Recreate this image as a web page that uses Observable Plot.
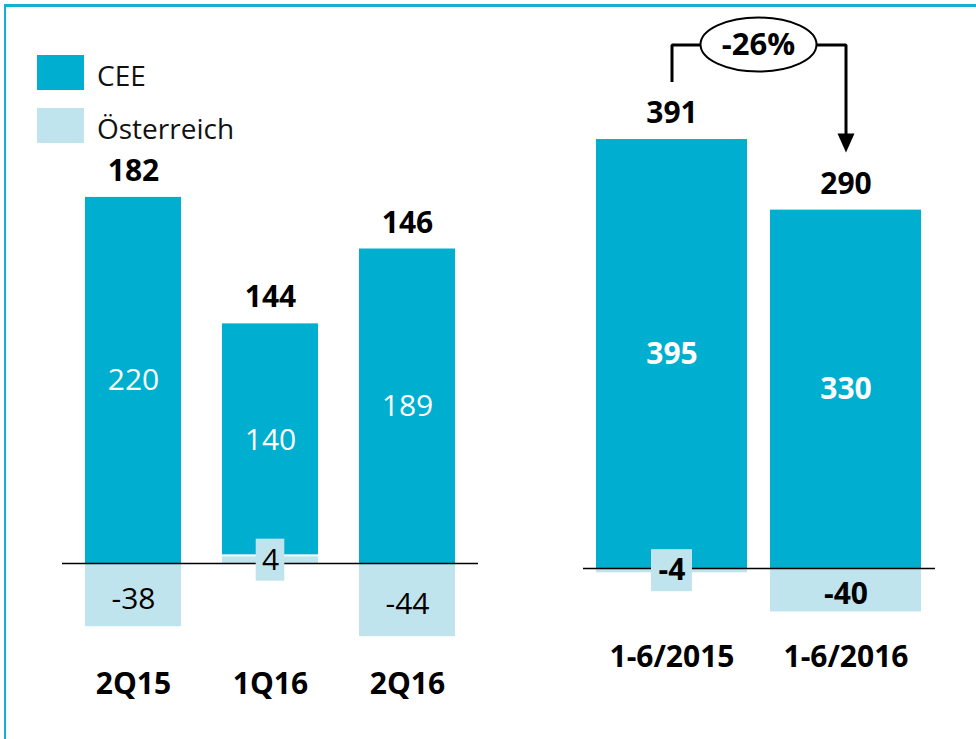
<!DOCTYPE html>
<html>
<head>
<meta charset="utf-8">
<script src="https://cdn.jsdelivr.net/npm/d3@7"></script>
<script src="https://cdn.jsdelivr.net/npm/@observablehq/plot@0.6"></script>
<style>
  body { margin: 0; background: #fff; }
  #wrap { position: relative; width: 976px; height: 739px; overflow: hidden; font-family: "Open Sans", sans-serif; background: #fff; }
  #left { position: absolute; left: 0; top: 0; }
  #right { position: absolute; left: 520px; top: 0; }
  #frame { position: absolute; left: 4px; top: 4px; right: -10px; bottom: -10px; border-top: 3px solid #12B0D2; border-left: 2px solid #12B0D2; pointer-events: none; }
  #legend { position: absolute; left: 37px; top: 55px; }
  .item { display: flex; align-items: center; height: 35px; margin-bottom: 18px; }
  .sw { width: 47px; height: 35px; margin-right: 13px; }
  .lab { font-size: 28px; color: #111; line-height: 35px; padding-top: 5px; }
</style>
</head>
<body>
<div id="wrap">
  <div id="left"></div>
  <div id="right"></div>
  <div id="legend"></div>
  <div id="frame"></div>
</div>
<script>
// ---- data ----
const seriesNames = ["CEE", "Österreich"];
const colors = ["#00AECF", "#BFE4ED"];

const quarters = ["2Q15", "1Q16", "2Q16"];
const ceeQ = [220, 140, 189];
const atQ = [-38, 4, -44];
const totalQ = [182, 144, 146];

const halves = ["1-6/2015", "1-6/2016"];
const ceeH = [395, 330];
const atH = [-4, -40];
const totalH = [391, 290];

// annotation levels (data units of the right panel)
const bracketY = 482;
const bracketLow = 448;
const arrowTip = 383;

// ---- legend ----
const legend = document.getElementById("legend");
seriesNames.forEach((n, i) => {
  const it = document.createElement("div");
  it.className = "item";
  it.innerHTML = `<div class="sw" style="background:${colors[i]}"></div><div class="lab">${n}</div>`;
  legend.appendChild(it);
});

function rowsOf(cats, cee, at, total) {
  return cats.map((c, i) => ({
    cat: c, cee: cee[i], at: at[i], total: total[i],
    base: Math.max(at[i], 0), top: Math.max(at[i], 0) + cee[i]
  }));
}

const downTriangle = {
  draw(ctx) {
    ctx.moveTo(-8.5, -19);
    ctx.lineTo(8.5, -19);
    ctx.lineTo(0, 0);
    ctx.closePath();
  }
};

function panel(o) {
  const rows = rowsOf(o.cats, o.cee, o.at, o.total);
  const small = rows.filter(d => Math.abs(d.at) < 10);
  const big = rows.filter(d => Math.abs(d.at) >= 10);
  const lifted = rows.filter(d => d.base > 0);
  const flat = rows.filter(d => d.base <= 0);
  return Plot.plot({
    width: o.width,
    height: 739,
    marginLeft: o.ruleL,
    marginRight: o.width - o.ruleR,
    marginTop: 0,
    marginBottom: o.marginBottom,
    x: { domain: o.cats, range: o.xRange, padding: o.padding, label: null },
    y: { domain: o.yDomain, range: o.yRange, axis: null },
    style: { fontFamily: "Open Sans, sans-serif", fontSize: "28px", color: "#000", background: "transparent", overflow: "visible" },
    marks: [
      Plot.barY(rows, { x: "cat", y1: 0, y2: "at", fill: colors[1] }),
      Plot.barY(flat, { x: "cat", y1: "base", y2: "top", fill: colors[0] }),
      Plot.barY(lifted, { x: "cat", y1: "base", y2: "top", fill: colors[0], insetBottom: 2 }),
      Plot.ruleY([0], { stroke: "#000", strokeWidth: 1.5 }),
      Plot.barY(small, { x: "cat", y1: d => d.at / 2, y2: d => d.at / 2, insetLeft: o.boxInset, insetRight: o.boxInset, insetTop: -21, insetBottom: -21, fill: colors[1] }),
      Plot.text(rows, { x: "cat", y: "top", dy: -26, text: d => String(d.total), fontSize: 30, fontWeight: "bold", fill: "#000" }),
      Plot.text(rows, { x: "cat", y: d => d.base + d.cee / 2, text: d => String(d.cee), fontSize: 30, fontWeight: o.weight, fill: "#fff" }),
      Plot.text(big, { x: "cat", y: d => d.at / 2, dy: 4, text: d => String(d.at), fontSize: 30, fontWeight: o.weight, fill: "#000" }),
      Plot.text(small, { x: "cat", y: d => d.at / 2, text: d => String(d.at), fontSize: 30, fontWeight: o.weight, fill: "#000" }),
      Plot.axisX({ tickSize: 0, tickPadding: o.tickPadding, fontSize: 30, fontWeight: "bold", label: null }),
      ...(o.extra || [])
    ]
  });
}

const leftPlot = panel({
  cats: quarters, cee: ceeQ, at: atQ, total: totalQ,
  width: 520, ruleL: 62, ruleR: 478, marginBottom: 75, tickPadding: 8,
  xRange: [42.7, 497.3], padding: 0.30,
  yDomain: [-100, 300], yRange: [729.4, 63.8],
  boxInset: 33.7, weight: "normal"
});
document.getElementById("left").appendChild(leftPlot);

const bracket = [
  { cat: halves[0], v: bracketLow },
  { cat: halves[0], v: bracketY },
  { cat: halves[1], v: bracketY },
  { cat: halves[1], v: arrowTip + 8 }
];

const rightPlot = panel({
  cats: halves, cee: ceeH, at: atH, total: totalH,
  width: 456, ruleL: 63, ruleR: 415, marginBottom: 103, tickPadding: 9,
  xRange: [52.5, 425], padding: 0.1347,
  yDomain: [-100, 500], yRange: [676.6, 25],
  boxInset: 55, weight: "bold",
  extra: [
    Plot.line(bracket, { x: "cat", y: "v", stroke: "#000", strokeWidth: 3, strokeLinecap: "butt", strokeLinejoin: "miter" }),
    Plot.dot([{ cat: halves[1], v: arrowTip }], { x: "cat", y: "v", symbol: downTriangle, fill: "#000", stroke: "none" })
  ]
});
document.getElementById("right").appendChild(rightPlot);

// percentage change ellipse
const sx = rightPlot.scale("x"), sy = rightPlot.scale("y");
const cx = (sx.apply(halves[0]) + sx.apply(halves[1])) / 2 + sx.bandwidth / 2;
const cy = sy.apply(bracketY);
const pct = Math.round((totalH[1] - totalH[0]) / totalH[0] * 100);
const g = d3.select(rightPlot).append("g");
g.append("ellipse").attr("cx", cx).attr("cy", cy).attr("rx", 58).attr("ry", 27)
  .attr("fill", "#fff").attr("stroke", "#000").attr("stroke-width", 2);
g.append("text").attr("x", cx).attr("y", cy).attr("dy", "0.35em")
  .attr("text-anchor", "middle").attr("font-size", 31).attr("font-weight", "bold")
  .attr("fill", "#000").text(`${pct}%`);
</script>
</body>
</html>
